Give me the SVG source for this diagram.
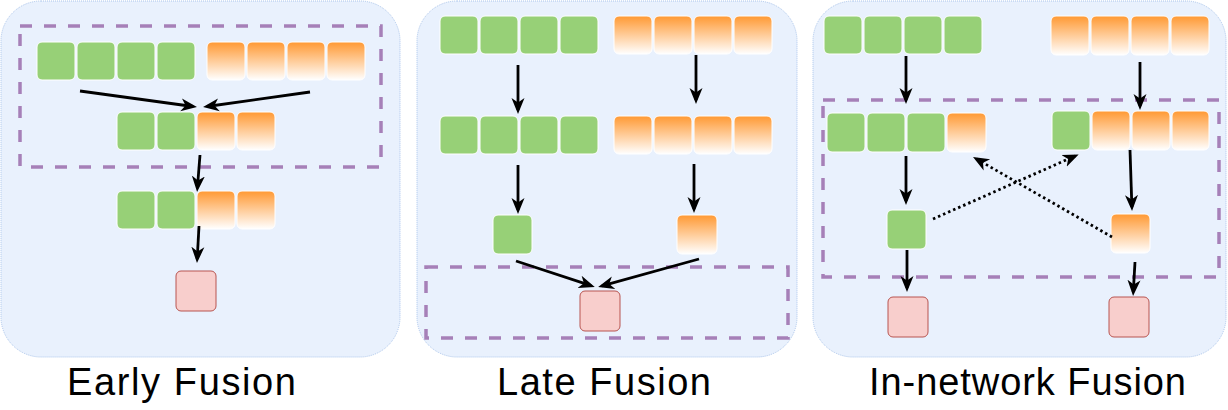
<svg xmlns="http://www.w3.org/2000/svg" width="1228" height="410" viewBox="0 0 1228 410">
  <style>
    .panel { fill: #e9f1fd; stroke: #a9c4eb; stroke-width: 1; stroke-dasharray: 1 1; }
    .g { fill: #97d077; stroke: #ffffff; stroke-width: 1; }
    .o { fill: url(#og); stroke: #ffffff; stroke-width: 1; }
    .p { fill: #f8cecc; stroke: #b85450; stroke-width: 1; }
    .grp { fill: none; stroke: #a680b8; stroke-width: 3.5; stroke-dasharray: 12 12; }
    .a { fill: none; stroke: #000000; stroke-width: 2.8; marker-end: url(#ah); }
    .d { fill: none; stroke: #000000; stroke-width: 2.8; stroke-dasharray: 2.5 3; marker-end: url(#ah); }
    .lbl { font-family: "Liberation Sans", Arial, sans-serif; font-size: 38px; fill: #000000; }
  </style>
  <defs>
    <linearGradient id="og" x1="0" y1="0" x2="0" y2="1">
      <stop offset="0" stop-color="#ff9933"/>
      <stop offset="1" stop-color="#ffffff"/>
    </linearGradient>
    <marker id="ah" markerUnits="userSpaceOnUse" markerWidth="16" markerHeight="16" viewBox="0 0 16 16" refX="12" refY="8" orient="auto">
      <path d="M0,1.5 L16,8 L0,14.5 L4.5,8 Z" fill="#000000"/>
    </marker>
  </defs>

  <!-- Panels -->
  <g id="panel-early"><rect class="panel" x="1" y="1" width="399" height="356" rx="40"/></g>
  <g id="panel-late"><rect class="panel" x="417" y="1" width="380" height="356" rx="40"/></g>
  <g id="panel-innetwork"><rect class="panel" x="813" y="1" width="413" height="356" rx="40"/></g>

  <!-- Fusion regions -->
  <g id="fusion-region-early"><rect class="grp" x="20" y="26" width="361" height="141"/></g>
  <g id="fusion-region-late"><rect class="grp" x="426" y="267" width="362" height="71"/></g>
  <g id="fusion-region-innetwork"><rect class="grp" x="823" y="100" width="396" height="177"/></g>

  <!-- Early Fusion nodes -->
  <g id="early-green-input">
    <rect class="g" x="37" y="42" width="38" height="38" rx="5"/>
    <rect class="g" x="77" y="42" width="38" height="38" rx="5"/>
    <rect class="g" x="117" y="42" width="38" height="38" rx="5"/>
    <rect class="g" x="157" y="42" width="38" height="38" rx="5"/>
  </g>
  <g id="early-orange-input">
    <rect class="o" x="207" y="42" width="38" height="38" rx="5"/>
    <rect class="o" x="247" y="42" width="38" height="38" rx="5"/>
    <rect class="o" x="287" y="42" width="38" height="38" rx="5"/>
    <rect class="o" x="327" y="42" width="38" height="38" rx="5"/>
  </g>
  <g id="early-fused">
    <rect class="g" x="117" y="112" width="38" height="38" rx="5"/>
    <rect class="g" x="157" y="112" width="38" height="38" rx="5"/>
    <rect class="o" x="197" y="112" width="38" height="38" rx="5"/>
    <rect class="o" x="237" y="112" width="38" height="38" rx="5"/>
  </g>
  <g id="early-processed">
    <rect class="g" x="117" y="191" width="38" height="38" rx="5"/>
    <rect class="g" x="157" y="191" width="38" height="38" rx="5"/>
    <rect class="o" x="197" y="191" width="38" height="38" rx="5"/>
    <rect class="o" x="237" y="191" width="38" height="38" rx="5"/>
  </g>
  <g id="early-output"><rect class="p" x="176" y="271" width="40" height="40" rx="5"/></g>

  <!-- Late Fusion nodes -->
  <g id="late-green-input">
    <rect class="g" x="440" y="16" width="38" height="38" rx="5"/>
    <rect class="g" x="480" y="16" width="38" height="38" rx="5"/>
    <rect class="g" x="520" y="16" width="38" height="38" rx="5"/>
    <rect class="g" x="560" y="16" width="38" height="38" rx="5"/>
  </g>
  <g id="late-orange-input">
    <rect class="o" x="614" y="16" width="38" height="38" rx="5"/>
    <rect class="o" x="654" y="16" width="38" height="38" rx="5"/>
    <rect class="o" x="694" y="16" width="38" height="38" rx="5"/>
    <rect class="o" x="734" y="16" width="38" height="38" rx="5"/>
  </g>
  <g id="late-green-hidden">
    <rect class="g" x="440" y="116" width="38" height="38" rx="5"/>
    <rect class="g" x="480" y="116" width="38" height="38" rx="5"/>
    <rect class="g" x="520" y="116" width="38" height="38" rx="5"/>
    <rect class="g" x="560" y="116" width="38" height="38" rx="5"/>
  </g>
  <g id="late-orange-hidden">
    <rect class="o" x="614" y="116" width="38" height="38" rx="5"/>
    <rect class="o" x="654" y="116" width="38" height="38" rx="5"/>
    <rect class="o" x="694" y="116" width="38" height="38" rx="5"/>
    <rect class="o" x="734" y="116" width="38" height="38" rx="5"/>
  </g>
  <g id="late-green-pooled"><rect class="g" x="493" y="215" width="39" height="39" rx="5"/></g>
  <g id="late-orange-pooled"><rect class="o" x="677" y="215" width="40" height="39" rx="5"/></g>
  <g id="late-output"><rect class="p" x="580" y="291" width="40" height="40" rx="5"/></g>

  <!-- In-network Fusion nodes -->
  <g id="innet-green-input">
    <rect class="g" x="824" y="16" width="38" height="38" rx="5"/>
    <rect class="g" x="864" y="16" width="38" height="38" rx="5"/>
    <rect class="g" x="904" y="16" width="38" height="38" rx="5"/>
    <rect class="g" x="944" y="16" width="38" height="38" rx="5"/>
  </g>
  <g id="innet-orange-input">
    <rect class="o" x="1051" y="16" width="38" height="39" rx="5"/>
    <rect class="o" x="1091" y="16" width="38" height="39" rx="5"/>
    <rect class="o" x="1131" y="16" width="38" height="39" rx="5"/>
    <rect class="o" x="1171" y="16" width="38" height="39" rx="5"/>
  </g>
  <g id="innet-left-mixed">
    <rect class="g" x="827" y="113" width="38" height="39" rx="5"/>
    <rect class="g" x="867" y="113" width="38" height="39" rx="5"/>
    <rect class="g" x="907" y="113" width="38" height="39" rx="5"/>
    <rect class="o" x="947" y="113" width="39" height="39" rx="5"/>
  </g>
  <g id="innet-right-mixed">
    <rect class="g" x="1052" y="111" width="38" height="39" rx="5"/>
    <rect class="o" x="1092" y="111" width="38" height="39" rx="5"/>
    <rect class="o" x="1132" y="111" width="38" height="39" rx="5"/>
    <rect class="o" x="1172" y="111" width="37" height="39" rx="5"/>
  </g>
  <g id="innet-green-pooled"><rect class="g" x="887" y="210" width="39" height="39" rx="5"/></g>
  <g id="innet-orange-pooled"><rect class="o" x="1111" y="214" width="39" height="39" rx="5"/></g>
  <g id="innet-output-left"><rect class="p" x="888" y="297" width="40" height="40" rx="5"/></g>
  <g id="innet-output-right"><rect class="p" x="1109" y="297" width="40" height="40" rx="5"/></g>

  <!-- Connectors -->
  <g id="connectors">
    <line class="a" x1="80" y1="91" x2="193" y2="106.5"/>
    <line class="a" x1="310" y1="92" x2="207" y2="106.5"/>
    <line class="a" x1="200" y1="155" x2="197.4" y2="188"/>
    <line class="a" x1="199" y1="226" x2="197.2" y2="259"/>

    <line class="a" x1="518" y1="65" x2="518" y2="110"/>
    <line class="a" x1="696" y1="55" x2="696" y2="100"/>
    <line class="a" x1="518" y1="165" x2="518" y2="210"/>
    <line class="a" x1="694" y1="164" x2="694" y2="209"/>
    <line class="a" x1="516" y1="261" x2="591" y2="285.7"/>
    <line class="a" x1="699" y1="259" x2="602" y2="285.9"/>

    <line class="a" x1="906" y1="56" x2="906" y2="100"/>
    <line class="a" x1="1140" y1="62" x2="1140" y2="106"/>
    <line class="a" x1="906" y1="156" x2="906" y2="201"/>
    <line class="a" x1="1130" y1="150" x2="1131.9" y2="207"/>
    <line class="a" x1="907" y1="250" x2="907" y2="288"/>
    <line class="a" x1="1135" y1="262" x2="1133.3" y2="292"/>
    <line class="d" x1="933" y1="219" x2="1075" y2="156"/>
    <line class="d" x1="1112" y1="237" x2="976.5" y2="159"/>
  </g>

  <!-- Labels -->
  <text class="lbl" x="67" y="395" textLength="229" lengthAdjust="spacing">Early Fusion</text>
  <text class="lbl" x="497" y="395" textLength="214" lengthAdjust="spacing">Late Fusion</text>
  <text class="lbl" x="869" y="395" textLength="317" lengthAdjust="spacing">In-network Fusion</text>
</svg>
